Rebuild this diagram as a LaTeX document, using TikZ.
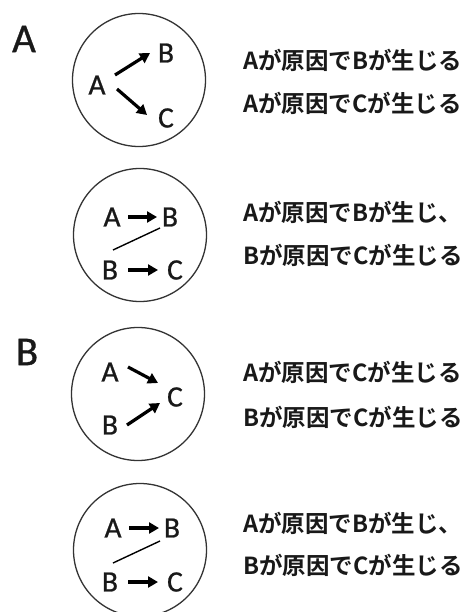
\documentclass[tikz,border=0pt]{standalone}
\usepackage{fontspec}
\setmainfont{Carlito}
\newfontfamily\jpfont{Noto Sans CJK JP Bold}
\newfontfamily\letfont[FakeBold=0.8]{Carlito}
\usetikzlibrary{arrows.meta}
\tikzset{
  ring/.style={draw=black!80, line width=1.3pt, circle, minimum size=133pt, inner sep=0pt},
  let/.style={font=\letfont\fontsize{29.5}{32}\selectfont, inner sep=0pt, text=black!90},
  big/.style={font=\letfont\fontsize{41}{44}\selectfont, inner sep=0pt, text=black!90},
  arr/.style={line width=3.2pt, -{Triangle[length=10pt,width=11pt]}},
  link/.style={line width=1.4pt},
  jp/.style={font=\jpfont\fontsize{23.5}{26}\selectfont, anchor=west, inner sep=0pt, text=black!90}
}
\begin{document}
\begin{tikzpicture}[x=1pt,y=-1pt]
\useasboundingbox (0,0) rectangle (467,612);
% labels
\node[big] (LA) at (24,39) {A};
\node[big] (LB) at (27,352) {B};
% circles
\node[ring] (c1) at (139,80) {};
\node[ring] (c2) at (140,235) {};
\node[ring] (c3) at (138,394) {};
\node[ring] (c4) at (140,550) {};
% circle 1
\node[let] (a1) at (97,85) {A};
\node[let] (b1) at (166,53) {B};
\node[let] (k1) at (166,118) {C};
\draw[arr] ([shift={(18,-10)}]a1.center) -- ([shift={(-16,0)}]b1.center);
\draw[arr] ([shift={(20,4)}]a1.center) -- ([shift={(-19,-3)}]k1.center);
% circle 2
\node[let] (a2) at (112,217) {A};
\node[let] (b2) at (170,217) {B};
\node[let] (d2) at (110,270) {B};
\node[let] (k2) at (175,270) {C};
\draw[arr] ([shift={(16,0)}]a2.center) -- ([shift={(-13,0)}]b2.center);
\draw[arr] ([shift={(18,0)}]d2.center) -- ([shift={(-17,0)}]k2.center);
\draw[link] ([shift={(-10,11)}]b2.center) -- ([shift={(3,-20)}]d2.center);
% circle 3
\node[let] (a3) at (110,372) {A};
\node[let] (k3) at (175,397) {C};
\node[let] (b3) at (110,425) {B};
\draw[arr] ([shift={(18,-5)}]a3.center) -- ([shift={(-17,-14)}]k3.center);
\draw[arr] ([shift={(17,0)}]b3.center) -- ([shift={(-15,6)}]k3.center);
% circle 4
\node[let] (a4) at (113,528) {A};
\node[let] (b4) at (172,528) {B};
\node[let] (d4) at (110,582) {B};
\node[let] (k4) at (175,582) {C};
\draw[arr] ([shift={(16,0)}]a4.center) -- ([shift={(-13,0)}]b4.center);
\draw[arr] ([shift={(18,0)}]d4.center) -- ([shift={(-17,0)}]k4.center);
\draw[link] ([shift={(-12,13)}]b4.center) -- ([shift={(3,-19)}]d4.center);
% texts
\node[jp] (t11) at (243,60) {Aが原因でBが生じる};
\node[jp] (t12) at (243,103) {Aが原因でCが生じる};
\node[jp] (t21) at (243,212) {Aが原因でBが生じ、};
\node[jp] (t22) at (243,255) {Bが原因でCが生じる};
\node[jp] (t31) at (243,372) {Aが原因でCが生じる};
\node[jp] (t32) at (243,417) {Bが原因でCが生じる};
\node[jp] (t41) at (243,523) {Aが原因でBが生じ、};
\node[jp] (t42) at (243,565) {Bが原因でCが生じる};
\end{tikzpicture}
\end{document}
